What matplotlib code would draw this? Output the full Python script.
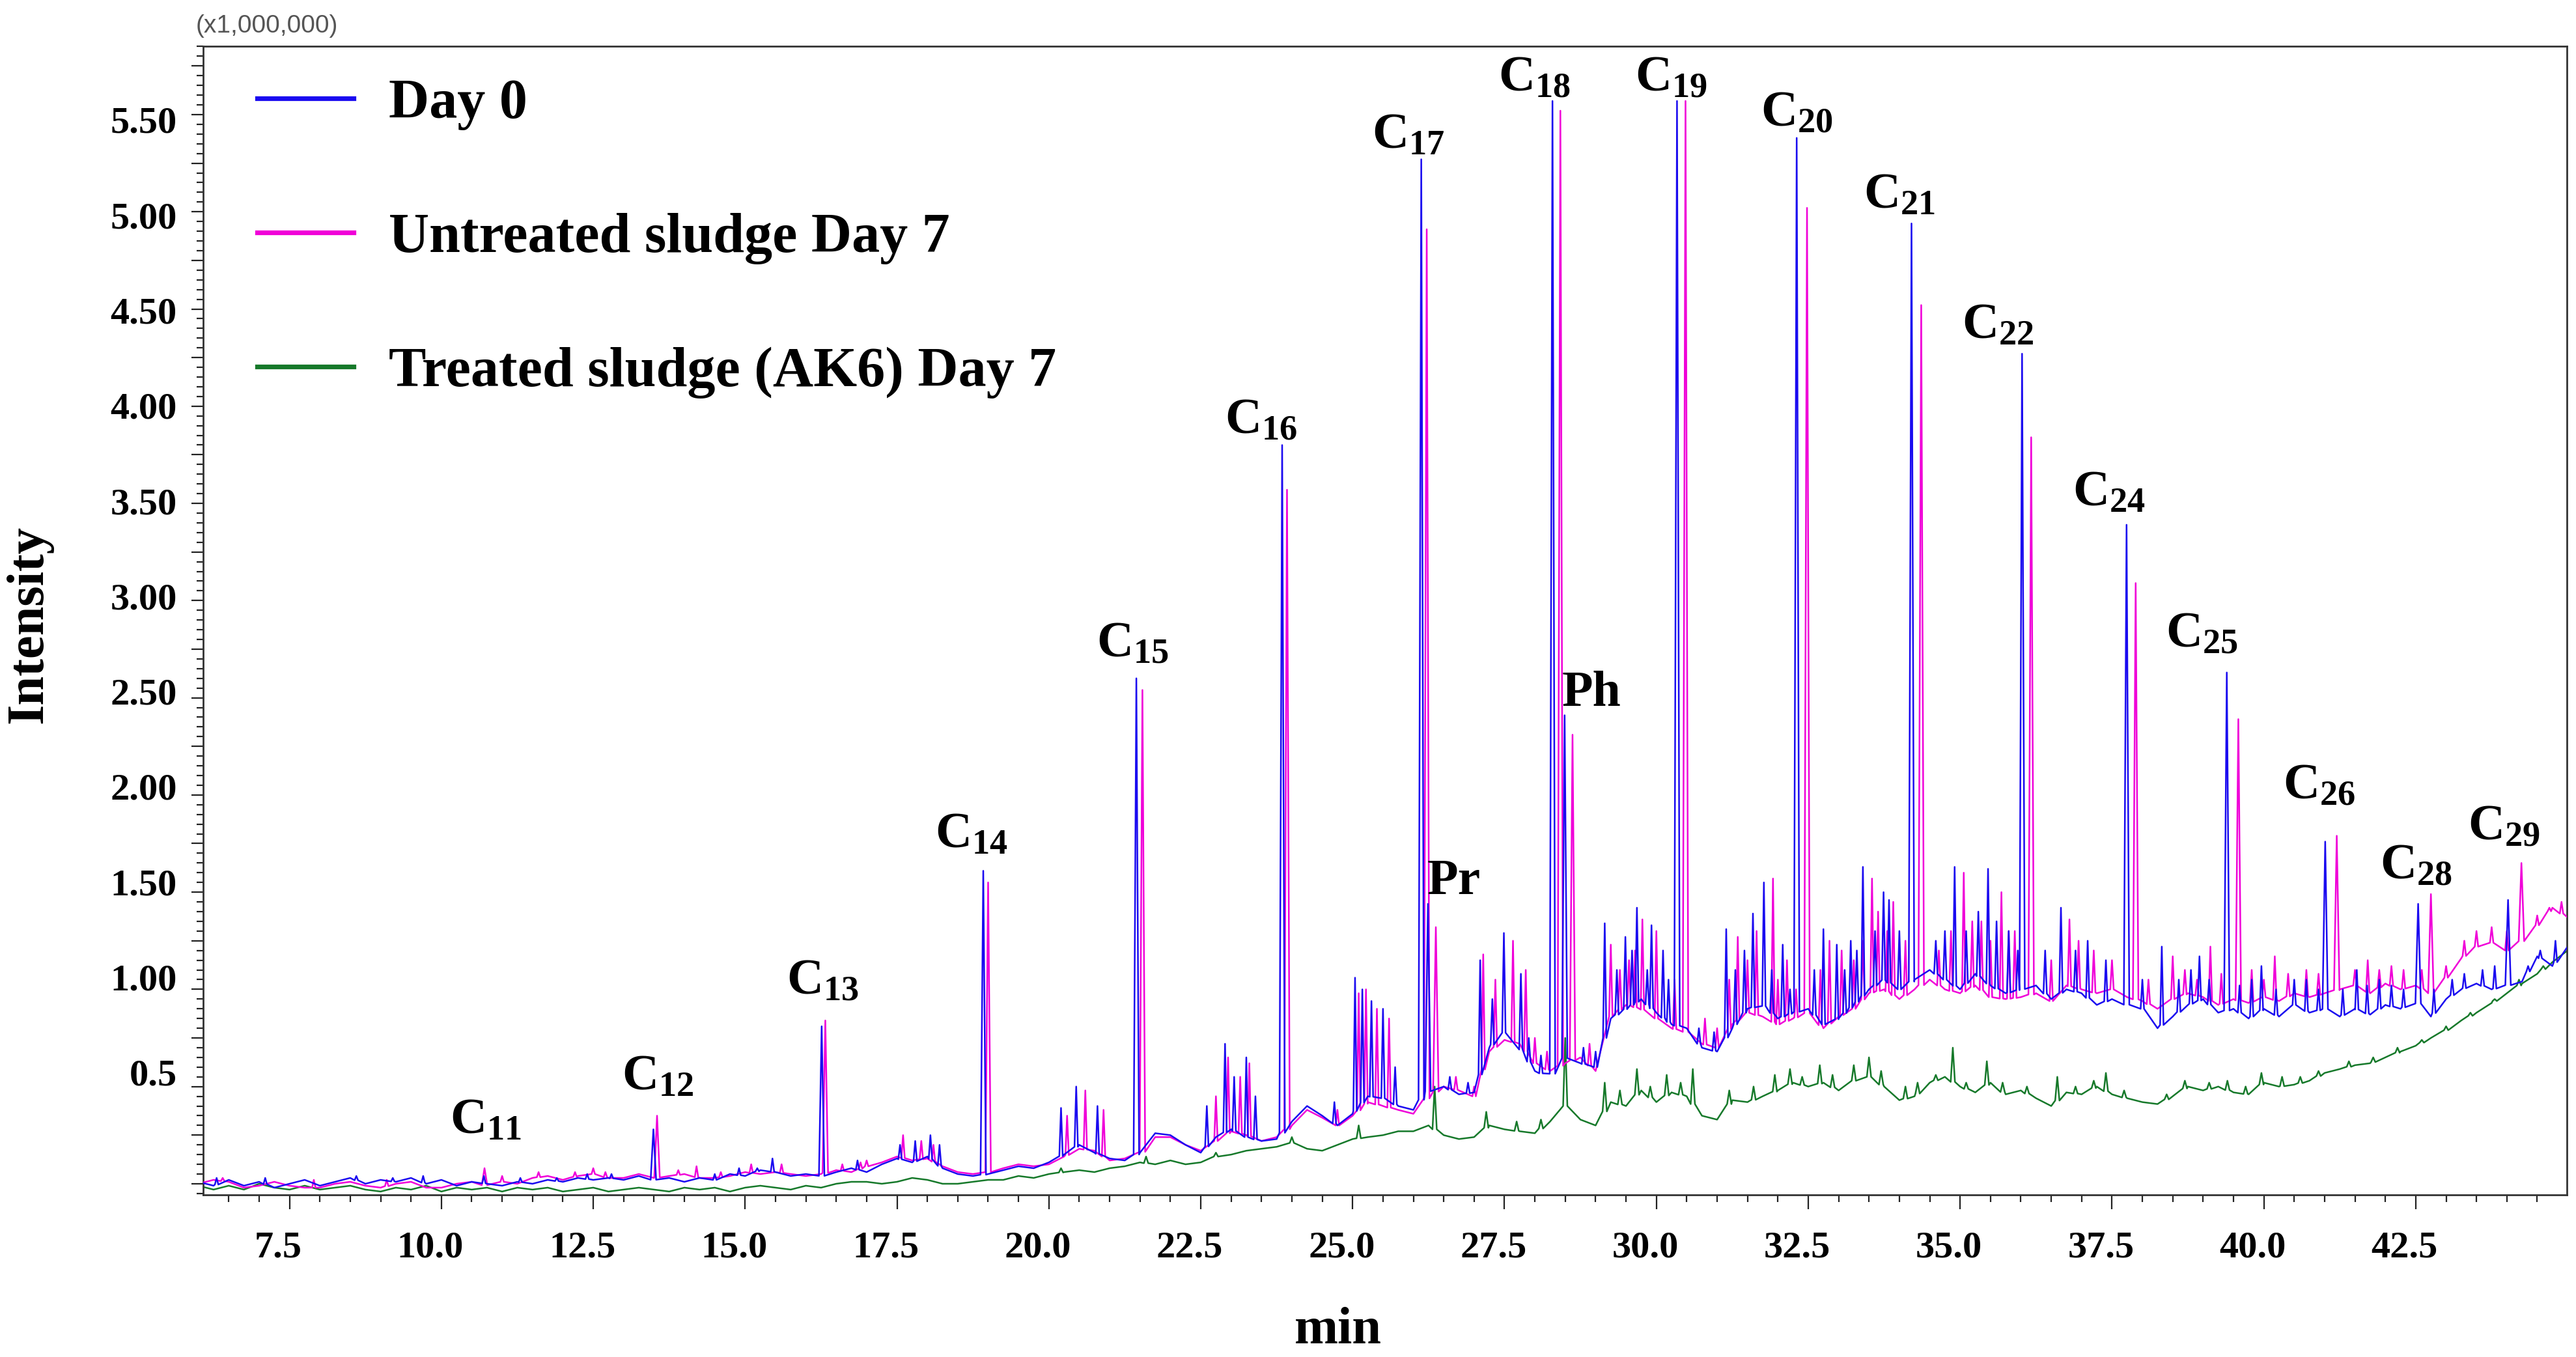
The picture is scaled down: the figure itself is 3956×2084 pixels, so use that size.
import numpy as np
import matplotlib
matplotlib.use("Agg")
import matplotlib.pyplot as plt
import matplotlib.transforms as mtransforms
from matplotlib.ticker import MultipleLocator, FuncFormatter

# retention time grid for the baseline readings (min)
base_t = np.arange(6.0, 45.01, 0.25)

# baseline levels (x1,000,000), every 0.25 min from 6.0
day0_base = [0.01, -0.01, 0.02, -0.01, 0.01, -0.02, 0.00, 0.02, -0.01, 0.01,
             0.03, 0.00, 0.02, 0.01, 0.03, 0.00, 0.02, -0.01, 0.01, 0.00,
             -0.01, 0.01, 0.00, 0.02, 0.01, 0.03, 0.02, 0.03, 0.02, 0.04,
             0.02, 0.03, 0.01, 0.03, 0.02, 0.05, 0.04, 0.07, 0.06, 0.04,
             0.05, 0.04, 0.06, 0.08, 0.06, 0.10, 0.13, 0.11, 0.14, 0.08,
             0.05, 0.04, 0.05, 0.07, 0.09, 0.08, 0.11, 0.15, 0.20, 0.16,
             0.13, 0.12, 0.16, 0.26, 0.25, 0.20, 0.16, 0.24, 0.28, 0.24,
             0.22, 0.23, 0.32, 0.40, 0.35, 0.30, 0.36, 0.45, 0.44, 0.40,
             0.38, 0.48, 0.50, 0.46, 0.47, 0.70, 0.78, 0.70, 0.58, 0.55,
             0.65, 0.62, 0.60, 0.85, 0.90, 0.95, 0.88, 0.82, 0.80, 0.70,
             0.68, 0.80, 0.90, 0.92, 0.85, 0.88, 0.90, 0.82, 0.85, 0.92,
             1.00, 1.05, 1.00, 1.05, 1.10, 1.05, 1.00, 1.08, 1.02, 0.98,
             1.00, 1.02, 0.95, 1.00, 0.98, 0.92, 0.95, 0.92, 0.90, 0.80,
             0.86, 0.92, 0.95, 0.88, 0.90, 0.85, 0.90, 0.86, 0.92, 0.88,
             0.90, 0.86, 0.90, 0.87, 0.92, 0.90, 0.94, 0.86, 0.95, 1.00,
             1.03, 1.00, 1.02, 1.04, 1.17, 1.12, 1.22]
untreated_base = [0.00, 0.02, 0.01, -0.02, -0.01, 0.01, -0.01, -0.02, -0.02, 0.00,
                  0.01, -0.01, -0.02, 0.00, 0.01, -0.02, -0.02, 0.00, 0.01, -0.01,
                  0.01, 0.00, 0.03, 0.04, 0.02, 0.04, 0.05, 0.03, 0.03, 0.05,
                  0.03, 0.04, 0.05, 0.03, 0.03, 0.04, 0.06, 0.05, 0.06, 0.05,
                  0.04, 0.05, 0.07, 0.06, 0.09, 0.11, 0.14, 0.12, 0.13, 0.09,
                  0.06, 0.05, 0.06, 0.08, 0.10, 0.09, 0.10, 0.14, 0.18, 0.17,
                  0.12, 0.13, 0.15, 0.24, 0.24, 0.20, 0.17, 0.22, 0.27, 0.25,
                  0.22, 0.24, 0.30, 0.38, 0.34, 0.30, 0.35, 0.42, 0.40, 0.38,
                  0.36, 0.45, 0.50, 0.48, 0.45, 0.68, 0.74, 0.72, 0.62, 0.58,
                  0.62, 0.65, 0.58, 0.86, 0.92, 0.90, 0.85, 0.80, 0.78, 0.72,
                  0.70, 0.82, 0.88, 0.86, 0.82, 0.85, 0.88, 0.80, 0.86, 0.90,
                  0.98, 1.00, 0.95, 1.00, 1.05, 1.00, 0.98, 1.02, 0.96, 0.95,
                  0.96, 0.98, 0.94, 1.02, 1.00, 0.98, 1.00, 0.96, 0.94, 0.90,
                  0.95, 0.98, 0.96, 0.92, 0.95, 0.93, 0.96, 0.94, 0.98, 0.96,
                  0.98, 1.00, 1.02, 0.98, 1.03, 1.00, 1.02, 0.98, 1.06, 1.16,
                  1.22, 1.24, 1.20, 1.25, 1.33, 1.42, 1.37]
treated_base = [-0.01, -0.03, -0.01, -0.03, 0.00, -0.02, -0.03, -0.01, -0.03, -0.02,
                -0.01, -0.03, -0.04, -0.02, -0.03, -0.01, -0.04, -0.02, -0.03, -0.02,
                -0.04, -0.02, -0.03, -0.02, -0.04, -0.03, -0.02, -0.04, -0.03, -0.02,
                -0.03, -0.04, -0.02, -0.03, -0.02, -0.04, -0.02, -0.01, -0.02, -0.03,
                -0.01, -0.02, 0.00, 0.01, 0.01, 0.00, 0.01, 0.03, 0.02, 0.00,
                0.00, 0.01, 0.02, 0.02, 0.04, 0.03, 0.05, 0.06, 0.07, 0.06,
                0.08, 0.09, 0.11, 0.10, 0.12, 0.10, 0.11, 0.14, 0.15, 0.17,
                0.18, 0.19, 0.21, 0.18, 0.17, 0.20, 0.23, 0.24, 0.25, 0.27,
                0.27, 0.30, 0.25, 0.23, 0.24, 0.30, 0.28, 0.27, 0.26, 0.32,
                0.40, 0.33, 0.30, 0.42, 0.40, 0.48, 0.42, 0.47, 0.45, 0.35,
                0.33, 0.43, 0.42, 0.45, 0.48, 0.52, 0.50, 0.52, 0.48, 0.53,
                0.55, 0.50, 0.43, 0.45, 0.52, 0.55, 0.50, 0.47, 0.52, 0.46,
                0.48, 0.44, 0.40, 0.47, 0.46, 0.50, 0.46, 0.44, 0.42, 0.41,
                0.45, 0.50, 0.48, 0.50, 0.47, 0.46, 0.52, 0.50, 0.51, 0.53,
                0.57, 0.59, 0.61, 0.62, 0.65, 0.68, 0.71, 0.75, 0.79, 0.84,
                0.88, 0.93, 0.98, 1.03, 1.08, 1.14, 1.20]

# major peaks: n-alkanes C11..C29 plus pristane / phytane
day0_peak_t = [13.49, 16.26, 18.92, 21.44, 23.84, 26.13, 26.24, 28.29, 28.49, 30.34,
               32.31, 34.20, 36.02, 37.74, 39.39, 41.01, 42.54, 44.02]
day0_peak_h = [0.28, 0.81, 1.61, 2.60, 3.80, 5.27, 1.44, 5.57, 2.41, 5.57,
               5.38, 4.94, 4.27, 3.39, 2.63, 1.76, 1.44, 1.46]
untreated_peak_t = [10.71, 13.55, 16.32, 19.00, 21.54, 23.92, 26.22, 26.37, 28.42, 28.62,
                    30.48, 32.48, 34.36, 36.17, 37.89, 39.58, 41.20, 42.75, 44.24]
untreated_peak_h = [0.08, 0.35, 0.84, 1.55, 2.54, 3.57, 4.91, 1.32, 5.52, 2.31,
                    5.57, 5.02, 4.52, 3.84, 3.09, 2.39, 1.79, 1.49, 1.65]

# smaller peaks of the noise and the unresolved hump
day0_minor_t = [6.30, 7.10, 8.60, 9.20, 9.70, 10.70, 11.30, 11.90, 12.40, 12.80,
                14.50, 14.90, 15.20, 15.45, 16.85, 17.55, 17.80, 18.05, 18.20, 20.20,
                20.45, 20.80, 22.60, 22.90, 23.05, 23.25, 23.40, 24.70, 25.04, 25.16,
                25.31, 25.50, 25.70, 26.60, 26.90, 27.10, 27.30, 27.49, 27.77, 27.90,
                28.10, 28.80, 29.00, 29.15, 29.35, 29.49, 29.60, 29.68, 29.85, 29.92,
                30.11, 30.20, 30.70, 30.95, 31.15, 31.30, 31.45, 31.59, 31.77, 31.90,
                32.08, 32.20, 32.60, 32.75, 32.97, 33.10, 33.20, 33.30, 33.40, 33.60,
                33.74, 33.83, 34.00, 34.60, 34.75, 34.91, 35.10, 35.30, 35.46, 35.60,
                35.80, 35.95, 36.40, 36.66, 36.90, 37.10, 37.40, 38.00, 38.32, 38.60,
                38.80, 38.94, 39.10, 39.60, 39.80, 39.96, 40.20, 40.50, 40.70, 40.90,
                41.30, 41.53, 41.70, 41.90, 42.10, 42.30, 42.80, 43.10, 43.30, 43.60,
                43.80, 44.35, 44.55, 44.80]
day0_minor_h = [0.03, 0.03, 0.04, 0.03, 0.04, 0.04, 0.03, 0.03, 0.05, 0.05,
                0.05, 0.08, 0.08, 0.13, 0.12, 0.20, 0.22, 0.25, 0.20, 0.39,
                0.50, 0.40, 0.40, 0.72, 0.55, 0.65, 0.45, 0.42, 1.06, 1.00,
                0.94, 0.90, 0.60, 0.55, 0.52, 1.15, 0.95, 1.29, 1.08, 0.75,
                0.66, 0.70, 0.68, 1.34, 1.10, 1.27, 1.20, 1.42, 1.10, 1.33,
                1.20, 1.05, 0.80, 0.78, 1.31, 1.10, 1.20, 1.39, 1.55, 1.10,
                1.23, 1.00, 1.10, 1.31, 1.23, 1.10, 1.25, 1.20, 1.63, 1.30,
                1.50, 1.46, 1.30, 1.25, 1.30, 1.63, 1.30, 1.40, 1.62, 1.35,
                1.30, 1.20, 1.20, 1.42, 1.20, 1.25, 1.15, 1.05, 1.22, 1.05,
                1.10, 1.17, 1.05, 1.02, 1.05, 1.12, 1.00, 1.05, 1.05, 1.00,
                1.00, 1.10, 1.02, 1.05, 1.02, 1.00, 1.00, 1.05, 1.08, 1.10,
                1.12, 1.12, 1.20, 1.25]
untreated_minor_t = [6.40, 7.90, 9.10, 11.00, 11.60, 12.20, 12.50, 12.70, 13.90, 14.20,
                     14.60, 15.10, 15.60, 16.60, 16.90, 17.00, 17.60, 17.90, 18.10, 20.30,
                     20.60, 20.90, 22.75, 22.95, 23.15, 23.30, 24.75, 25.10, 25.22, 25.40,
                     25.60, 26.70, 27.00, 27.15, 27.35, 27.64, 27.85, 28.00, 28.20, 28.90,
                     29.25, 29.40, 29.55, 29.65, 29.77, 30.00, 30.30, 30.80, 31.00, 31.20,
                     31.34, 31.50, 31.65, 31.92, 32.00, 32.15, 32.30, 32.70, 32.85, 33.05,
                     33.25, 33.40, 33.55, 33.65, 33.80, 33.90, 34.10, 34.65, 34.85, 35.06,
                     35.20, 35.35, 35.50, 35.68, 35.80, 35.90, 36.50, 36.80, 36.95, 37.20,
                     37.50, 38.10, 38.50, 38.70, 38.90, 39.12, 39.30, 39.80, 40.00, 40.18,
                     40.40, 40.70, 40.90, 41.50, 41.71, 41.90, 42.10, 42.30, 42.60, 43.00,
                     43.30, 43.50, 43.75, 44.00, 44.50, 44.70, 44.90]
untreated_minor_h = [0.03, 0.02, 0.02, 0.04, 0.06, 0.06, 0.08, 0.06, 0.07, 0.09,
                     0.06, 0.10, 0.10, 0.10, 0.11, 0.12, 0.25, 0.22, 0.20, 0.35,
                     0.48, 0.38, 0.45, 0.65, 0.55, 0.62, 0.38, 0.98, 1.00, 0.90,
                     0.85, 0.55, 0.50, 1.18, 1.05, 1.25, 1.10, 0.75, 0.68, 0.72,
                     1.23, 1.10, 1.15, 1.20, 1.36, 1.30, 1.05, 0.85, 0.80, 1.05,
                     1.27, 1.15, 1.30, 1.57, 1.05, 1.15, 1.00, 1.10, 1.25, 1.20,
                     1.15, 1.25, 1.57, 1.40, 1.30, 1.45, 1.25, 1.20, 1.30, 1.60,
                     1.35, 1.35, 1.25, 1.50, 1.30, 1.30, 1.15, 1.36, 1.25, 1.20,
                     1.15, 1.05, 1.17, 1.10, 1.05, 1.22, 1.08, 1.10, 1.05, 1.17,
                     1.08, 1.10, 1.08, 1.10, 1.15, 1.10, 1.12, 1.10, 1.10, 1.12,
                     1.25, 1.30, 1.32, 1.30, 1.38, 1.42, 1.45]
treated_minor_t = [20.20, 21.60, 22.75, 24.00, 25.10, 26.35, 27.20, 27.70, 28.10, 28.50,
                   29.15, 29.40, 29.68, 29.90, 30.17, 30.40, 30.60, 31.20, 31.60, 31.95,
                   32.20, 32.40, 32.69, 32.90, 33.25, 33.50, 33.70, 34.10, 34.30, 34.60,
                   34.88, 35.10, 35.44, 35.70, 36.10, 36.60, 36.90, 37.20, 37.40, 37.70,
                   38.40, 38.70, 39.10, 39.40, 39.70, 39.96, 40.30, 40.60, 40.90, 41.40,
                   41.80, 42.20, 42.60, 43.00, 43.40, 43.80, 44.20, 44.60]
treated_minor_h = [0.08, 0.14, 0.16, 0.24, 0.30, 0.50, 0.37, 0.32, 0.33, 0.75,
                   0.52, 0.48, 0.59, 0.50, 0.56, 0.52, 0.59, 0.48, 0.50, 0.56,
                   0.59, 0.55, 0.61, 0.56, 0.61, 0.65, 0.58, 0.50, 0.52, 0.56,
                   0.70, 0.52, 0.63, 0.52, 0.50, 0.55, 0.50, 0.53, 0.57, 0.48,
                   0.46, 0.53, 0.52, 0.53, 0.50, 0.57, 0.55, 0.55, 0.58, 0.63,
                   0.65, 0.70, 0.74, 0.81, 0.88, 0.95, 1.05, 1.12]

# peak labels: text, retention time of label centre, baseline height
label_text = ["C$_{11}$", "C$_{12}$", "C$_{13}$", "C$_{14}$", "C$_{15}$", "C$_{16}$",
              "C$_{17}$", "C$_{18}$", "C$_{19}$", "C$_{20}$", "C$_{21}$", "C$_{22}$",
              "C$_{24}$", "C$_{25}$", "C$_{26}$", "C$_{28}$", "C$_{29}$", "Pr", "Ph"]
label_t = [10.73, 13.57, 16.28, 18.73, 21.38, 23.49, 25.92, 28.00, 30.25, 32.31,
           34.00, 35.63, 37.45, 38.98, 40.91, 42.51, 43.95, 26.67, 28.93]
label_y = [0.26, 0.485, 0.975, 1.73, 2.71, 3.86, 5.33, 5.62, 5.62, 5.44,
           5.02, 4.35, 3.49, 2.76, 1.98, 1.57, 1.77, 1.49, 2.46]


def build_trace(base, peaks_t, peaks_h, widths):
    """Merge baseline readings and peak apexes into one polyline."""
    base = np.asarray(base, dtype=float)
    keep = np.ones(len(base_t), dtype=bool)
    pts = []
    for pt, ph, w in zip(peaks_t, peaks_h, widths):
        foot = np.interp(pt, base_t, base)
        pts += [(pt - w, foot), (pt, ph), (pt + w, foot)]
        keep &= np.abs(base_t - pt) > w
    pts += list(zip(base_t[keep], base[keep]))
    pts.sort()
    arr = np.array(pts)
    return arr[:, 0], arr[:, 1]


def trace_for(base, major_t, major_h, minor_t, minor_h):
    t = list(major_t) + list(minor_t)
    h = list(major_h) + list(minor_h)
    w = [0.045] * len(major_t) + [0.028] * len(minor_t)
    return build_trace(base, t, h, w)


plt.rcParams['font.family'] = ['Liberation Serif', 'DejaVu Serif']
plt.rcParams['font.weight'] = 'bold'
plt.rcParams['mathtext.fontset'] = 'custom'
plt.rcParams['mathtext.rm'] = 'Liberation Serif:bold'
plt.rcParams['mathtext.it'] = 'Liberation Serif:bold'
plt.rcParams['mathtext.bf'] = 'Liberation Serif:bold'

BLUE = '#1a0af0'
MAGENTA = '#f000d8'
GREEN = '#16792a'

fig = plt.figure(figsize=(19.78, 10.42), dpi=200)
ax = fig.add_axes([0.0789, 0.1195, 0.9176, 0.8462])

t0, y0 = trace_for(day0_base, day0_peak_t, day0_peak_h, day0_minor_t, day0_minor_h)
t1, y1 = trace_for(untreated_base, untreated_peak_t, untreated_peak_h,
                   untreated_minor_t, untreated_minor_h)
t2, y2 = build_trace(treated_base, treated_minor_t, treated_minor_h,
                     [0.035] * len(treated_minor_t))

l_tr, = ax.plot(t2, y2, color=GREEN, lw=0.9, zorder=2)
l_un, = ax.plot(t1, y1, color=MAGENTA, lw=0.9, zorder=3)
l_d0, = ax.plot(t0, y0, color=BLUE, lw=0.9, zorder=4)

ax.set_xlim(6.08, 44.99)
ax.set_ylim(-0.057, 5.85)

ax.xaxis.set_major_locator(MultipleLocator(2.5))
ax.xaxis.set_minor_locator(MultipleLocator(0.5))
ax.xaxis.set_major_formatter(FuncFormatter(lambda v, p: f'{v:.1f}'))
ax.yaxis.set_major_locator(MultipleLocator(0.25))
ax.yaxis.set_minor_locator(MultipleLocator(0.05))


def ylab(v, pos):
    if v < 0.4 or abs(v * 2 - round(v * 2)) > 1e-6:
        return ''
    return '0.5' if abs(v - 0.5) < 1e-6 else f'{v:.2f}'


ax.yaxis.set_major_formatter(FuncFormatter(ylab))
ax.tick_params(axis='x', which='major', direction='out', length=7.9, width=0.8,
               labelsize=21, pad=12, colors='#222222')
ax.tick_params(axis='x', which='minor', direction='out', length=4, width=0.8,
               colors='#222222')
ax.tick_params(axis='y', which='major', direction='out', length=6.5, width=0.8,
               labelsize=21, pad=8, colors='#222222')
ax.tick_params(axis='y', which='minor', direction='out', length=3.6, width=0.8,
               colors='#222222')
for lbl in ax.get_xticklabels() + ax.get_yticklabels():
    lbl.set_color('black')

for sp in ax.spines.values():
    sp.set_color('#333333')
    sp.set_linewidth(1.0)

ax.set_xlabel('min', fontsize=29, fontweight='bold', va='center')
ax.xaxis.set_label_coords(0.480, -0.1185)
ax.set_ylabel('Intensity', fontsize=29, fontweight='bold', va='center')
ax.yaxis.set_label_coords(-0.0736, 0.497)

ax.text(-0.0033, 1.0178, '(x1,000,000)', transform=ax.transAxes, ha='left',
        va='center', fontsize=14, fontweight='normal', color='#555555',
        family=['Liberation Sans Narrow', 'Liberation Sans', 'DejaVu Sans'])

for txt, tx, ty in zip(label_text, label_t, label_y):
    ax.text(tx, ty, txt, ha='center', va='baseline', fontsize=28,
            fontweight='bold', zorder=6)

leg = ax.legend([l_d0, l_un, l_tr],
                ['Day 0', 'Untreated sludge Day 7', 'Treated sludge (AK6) Day 7'],
                loc='upper left', bbox_to_anchor=(0.0229, 0.972), frameon=False,
                prop={'family': 'Liberation Serif', 'weight': 'bold', 'size': 31},
                handlelength=1.72, handletextpad=0.62, labelspacing=1.47,
                borderpad=0, borderaxespad=0)
for ln in leg.legend_handles:
    ln.set_linewidth(2.6)

# the instrument software prints tick labels a little off their ticks
fig.canvas.draw()
for tk in ax.yaxis.get_major_ticks():
    up_px = 7 + (3.0 - tk.get_loc()) * 6
    off = mtransforms.ScaledTranslation(0, up_px / 200, fig.dpi_scale_trans)
    tk.label1.set_transform(tk.label1.get_transform() + off)
left = mtransforms.ScaledTranslation(-17 / 200, 0, fig.dpi_scale_trans)
for tk in ax.xaxis.get_major_ticks():
    tk.label1.set_transform(tk.label1.get_transform() + left)

fig.savefig('out.png', dpi=200)
